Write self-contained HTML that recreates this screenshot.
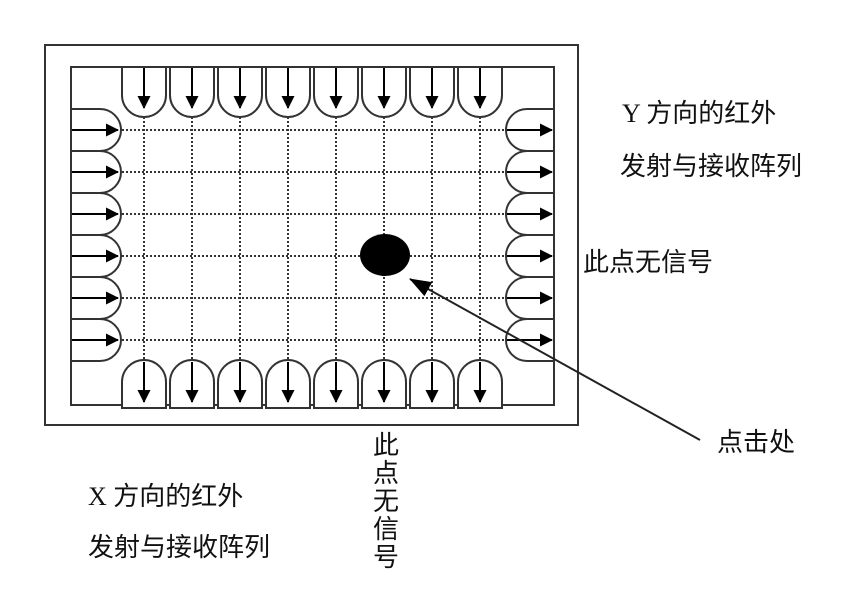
<!DOCTYPE html>
<html><head><meta charset="utf-8"><style>
html,body{margin:0;padding:0;background:#fff;}
svg{display:block;}
text{font-family:"Liberation Serif","Noto Sans CJK SC",sans-serif;font-size:26px;fill:#111;}
</style></head><body>
<svg width="848" height="605" viewBox="0 0 848 605" xmlns="http://www.w3.org/2000/svg">
<defs>
<marker id="ah" markerWidth="13" markerHeight="13" refX="12" refY="6.5" orient="auto" markerUnits="userSpaceOnUse">
<path d="M0,0 L13,6.5 L0,13 z" fill="#000"/></marker>
<marker id="ah2" markerWidth="22" markerHeight="16" refX="21" refY="8" orient="auto" markerUnits="userSpaceOnUse">
<path d="M0,0 L22,8 L0,16 z" fill="#000"/></marker>
</defs>
<rect x="45" y="45" width="533" height="380" fill="none" stroke="#333" stroke-width="2"/>
<rect x="71" y="67" width="483" height="338" fill="none" stroke="#333" stroke-width="2"/>
<g stroke="#333" stroke-width="2" stroke-dasharray="2,2" fill="none">
<path d="M122 130H508M122 172H508M122 214H508M122 256H508M122 298H508M122 340H508"/>
<path d="M144 117V360M192 117V360M240 117V360M288 117V360M336 117V360M384 117V360M432 117V360M480 117V360"/>
</g>
<g stroke="#333" stroke-width="2" fill="#fff">
<path d="M122 67V95A22 22 0 0 0 166 95V67Z"/>
<path d="M170 67V95A22 22 0 0 0 214 95V67Z"/>
<path d="M218 67V95A22 22 0 0 0 262 95V67Z"/>
<path d="M266 67V95A22 22 0 0 0 310 95V67Z"/>
<path d="M314 67V95A22 22 0 0 0 358 95V67Z"/>
<path d="M362 67V95A22 22 0 0 0 406 95V67Z"/>
<path d="M410 67V95A22 22 0 0 0 454 95V67Z"/>
<path d="M458 67V95A22 22 0 0 0 502 95V67Z"/>
<path d="M122 408V382A22 22 0 0 1 166 382V408Z"/>
<path d="M170 408V382A22 22 0 0 1 214 382V408Z"/>
<path d="M218 408V382A22 22 0 0 1 262 382V408Z"/>
<path d="M266 408V382A22 22 0 0 1 310 382V408Z"/>
<path d="M314 408V382A22 22 0 0 1 358 382V408Z"/>
<path d="M362 408V382A22 22 0 0 1 406 382V408Z"/>
<path d="M410 408V382A22 22 0 0 1 454 382V408Z"/>
<path d="M458 408V382A22 22 0 0 1 502 382V408Z"/>
<path d="M71 109H100A21 21 0 0 1 100 151H71Z"/>
<path d="M71 151H100A21 21 0 0 1 100 193H71Z"/>
<path d="M71 193H100A21 21 0 0 1 100 235H71Z"/>
<path d="M71 235H100A21 21 0 0 1 100 277H71Z"/>
<path d="M71 277H100A21 21 0 0 1 100 319H71Z"/>
<path d="M71 319H100A21 21 0 0 1 100 361H71Z"/>
<path d="M554 109H527A21 21 0 0 0 527 151H554Z"/>
<path d="M554 151H527A21 21 0 0 0 527 193H554Z"/>
<path d="M554 193H527A21 21 0 0 0 527 235H554Z"/>
<path d="M554 235H527A21 21 0 0 0 527 277H554Z"/>
<path d="M554 277H527A21 21 0 0 0 527 319H554Z"/>
<path d="M554 319H527A21 21 0 0 0 527 361H554Z"/>
</g>
<g stroke="#000" stroke-width="2" marker-end="url(#ah)">
<path d="M144 68V108"/><path d="M192 68V108"/><path d="M240 68V108"/><path d="M288 68V108"/>
<path d="M336 68V108"/><path d="M384 68V108"/><path d="M432 68V108"/><path d="M480 68V108"/>
<path d="M144 362V402"/><path d="M192 362V402"/><path d="M240 362V402"/><path d="M288 362V402"/>
<path d="M336 362V402"/><path d="M384 362V402"/><path d="M432 362V402"/><path d="M480 362V402"/>
<path d="M72 130H118"/><path d="M72 172H118"/><path d="M72 214H118"/><path d="M72 256H118"/><path d="M72 298H118"/><path d="M72 340H118"/>
<path d="M507 130H552"/><path d="M507 172H552"/><path d="M507 214H552"/><path d="M507 256H552"/><path d="M507 298H552"/><path d="M507 340H552"/>
</g>
<ellipse cx="385" cy="255" rx="25" ry="21" fill="#000"/>
<path d="M700 440 L410 279" stroke="#222" stroke-width="2" marker-end="url(#ah2)"/>
<text x="622" y="122">Y 方向的红外</text>
<text x="620" y="175">发射与接收阵列</text>
<text x="583" y="271">此点无信号</text>
<text x="717" y="451">点击处</text>
<text x="88" y="505">X 方向的红外</text>
<text x="88" y="556">发射与接收阵列</text>
<g>
<text x="373" y="454">此</text>
<text x="373" y="482">点</text>
<text x="373" y="510">无</text>
<text x="373" y="538">信</text>
<text x="373" y="566">号</text>
</g>
</svg>
</body></html>
